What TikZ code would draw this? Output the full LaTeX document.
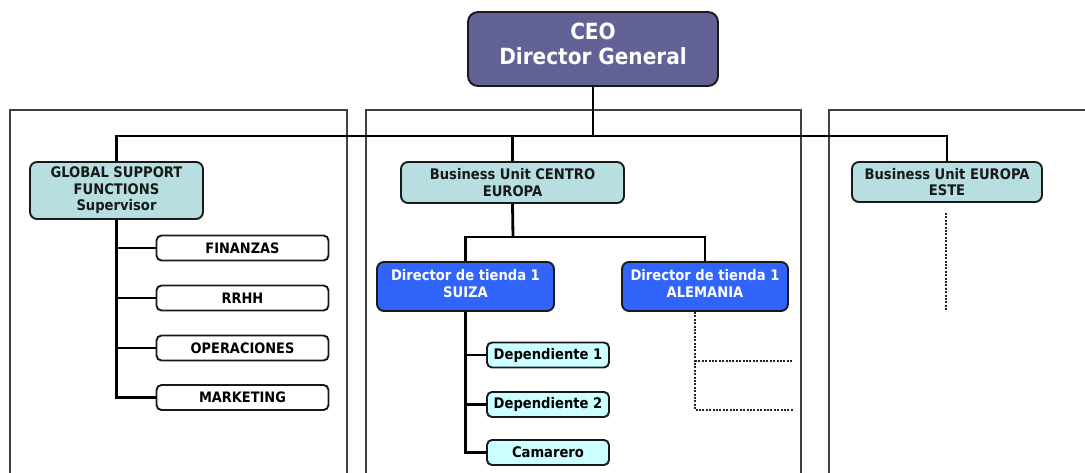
\documentclass[tikz,border=0pt]{standalone}
\usepackage{fontspec}
\setmainfont{DejaVu Sans Condensed}
\definecolor{ceofill}{RGB}{98,98,150}
\definecolor{unitfill}{RGB}{183,222,224}
\definecolor{storefill}{RGB}{48,100,250}
\definecolor{staff}{RGB}{204,255,255}
\definecolor{edge}{RGB}{25,25,25}
\tikzset{
  box/.style={draw=edge, line width=1.9pt, align=center, inner sep=0pt, font=\bfseries\fontsize{14.6}{16.5}\selectfont},
  ceobox/.style={box, fill=ceofill, text=white, rounded corners=10pt, text depth=11pt, font=\bfseries\fontsize{22.3}{25}\selectfont},
  unitbox/.style={box, fill=unitfill, text=black!90, rounded corners=7pt},
  dept/.style={box, fill=white, text=black, rounded corners=5pt, minimum width=172pt, minimum height=25pt, font=\bfseries\fontsize{14.4}{15}\selectfont},
  storebox/.style={box, fill=storefill, text=white, rounded corners=7pt, minimum height=49pt, text depth=6pt},
  staffbox/.style={box, fill=staff, text=black, rounded corners=5pt, minimum width=122pt, minimum height=25pt, font=\bfseries\fontsize{14.6}{15}\selectfont},
  link/.style={line width=2.8pt, draw=black},
  dotline/.style={line width=2.7pt, draw=black!85, dash pattern=on 2pt off 1.4pt},
  frame/.style={line width=1.5pt, draw=black!75}
}
\begin{document}
\begin{tikzpicture}[x=1pt, y=-1pt]
\useasboundingbox (0,0) rectangle (1085,473);

% section frames
\draw[frame] (10,474) -- (10,110) -- (347,110) -- (347,474);
\draw[frame] (366,474) -- (366,110) -- (801,110) -- (801,474);
\draw[frame] (829,474) -- (829,110) -- (1086,110);

% boxes
\node[ceobox, minimum width=250pt, minimum height=74pt] (ceo) at (593,49) {CEO\\Director General};

\node[unitbox, minimum width=173pt, minimum height=57pt] (gsf) at (116.5,190.5) {GLOBAL SUPPORT\\FUNCTIONS\\Supervisor};
\node[unitbox, minimum width=223pt, minimum height=41pt] (cen) at (512.5,182.5) {Business Unit CENTRO\\EUROPA};
\node[unitbox, minimum width=190pt, minimum height=40pt] (ese) at (947,182) {Business Unit EUROPA\\ESTE};

\node[dept] (fin) at (242.5,248) {FINANZAS};
\node[dept] (rrhh) at (242.5,298) {RRHH};
\node[dept] (ope) at (242.5,348) {OPERACIONES};
\node[dept] (mkt) at (242.5,397.5) {MARKETING};

\node[storebox, minimum width=177pt] (sui) at (465.5,286.5) {Director de tienda 1\\SUIZA};
\node[storebox, minimum width=166pt] (ale) at (705,286.5) {Director de tienda 1\\ALEMANIA};

\node[staffbox] (dep1) at (548,355) {Dependiente 1};
\node[staffbox] (dep2) at (548,404.5) {Dependiente 2};
\node[staffbox] (cam) at (548,452.5) {Camarero};

% connectors
\coordinate (bus) at (593,136);
\coordinate (cenbus) at (513,237);
\coordinate (dot1) at (793,361);
\coordinate (dot2) at (793,410);
\coordinate (esedot) at (946,310);

\draw[link] (ceo.south) -- (bus);
\draw[link] (gsf.north) -- (gsf.north |- bus) -- (ese.north |- bus) -- (ese.north);
\draw[link] (cen.north |- bus) -- (cen.north);

\draw[link] (gsf.south) |- (mkt.west);
\draw[link] (gsf.south |- fin.west) -- (fin.west);
\draw[link] (gsf.south |- rrhh.west) -- (rrhh.west);
\draw[link] (gsf.south |- ope.west) -- (ope.west);

\draw[link] (cen.south) -- (cenbus);
\draw[link] (sui.north) |- (cenbus) -| (ale.north);

\draw[link] (sui.south) |- (cam.west);
\draw[link] (sui.south |- dep1.west) -- (dep1.west);
\draw[link] (sui.south |- dep2.west) -- (dep2.west);

\draw[dotline] (ale.south) ++(-10,0) |- (dot2);
\draw[dotline] (dot1 -| dot2) ++(-98,0) -- (dot1);
\draw[dotline] (ese.south) ++(-1,10) -- (esedot);
\end{tikzpicture}
\end{document}
